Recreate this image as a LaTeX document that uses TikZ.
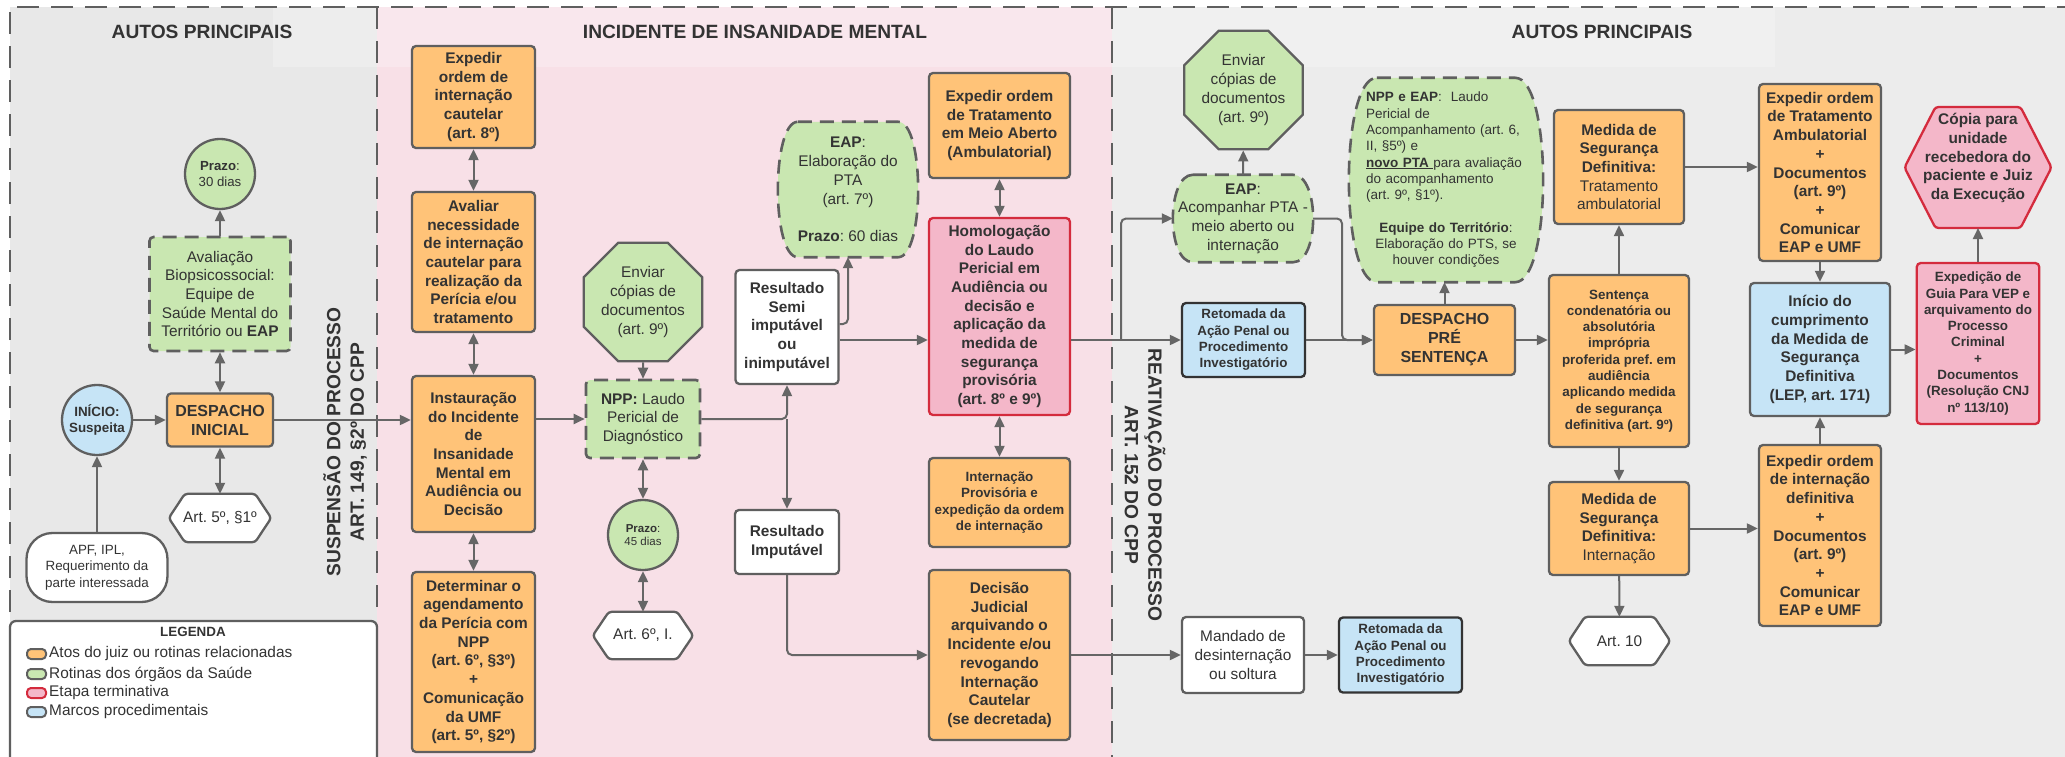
\documentclass[tikz,border=0pt]{standalone}
\usepackage{fontspec}
\setmainfont{Liberation Sans}
\usetikzlibrary{shapes.geometric,arrows.meta,calc}
\pgfdeclarelayer{bgl}
\pgfdeclarelayer{midl}
\pgfsetlayers{bgl,midl,main}
\frenchspacing
\definecolor{orng}{HTML}{FFC378}
\definecolor{grn}{HTML}{C9E7B1}
\definecolor{blu}{HTML}{C6E4F6}
\definecolor{pnk}{HTML}{F4B7C9}
\definecolor{redb}{HTML}{D42B3D}
\definecolor{bd}{HTML}{5F5F5F}
\definecolor{txt}{HTML}{333333}
\definecolor{panelpink}{HTML}{F8E0E7}
\definecolor{panelgray}{HTML}{E8E8E8}
\definecolor{panelgrayb}{HTML}{ECECEC}
\definecolor{arrc}{HTML}{666666}
\newcommand{\fntB}{\fontsize{15.4}{18.7}\selectfont\bfseries\frenchspacing}
\newcommand{\fntR}{\fontsize{15.4}{18.7}\selectfont\frenchspacing}
\newcommand{\fntSB}{\fontsize{13.4}{16.3}\selectfont\bfseries\frenchspacing}
\newcommand{\fntSR}{\fontsize{13.4}{16.3}\selectfont\frenchspacing}
\newcommand{\fntH}{\fontsize{19.2}{23.5}\selectfont\bfseries\frenchspacing}
\newcommand{\fntD}{\fontsize{16}{19}\selectfont\bfseries}
\newcommand{\hexshape}[2]{%
  \draw[hexd] (#1.west) -- ($(#1.north west)+(#2,0)$) -- ($(#1.north east)+(-#2,0)$) -- (#1.east) -- ($(#1.south east)+(-#2,0)$) -- ($(#1.south west)+(#2,0)$) -- cycle;}
\newcommand{\barrelshape}[2]{%
  \draw[barreld] ($(#1.north west)+(#2,0)$) -- ($(#1.north east)+(-#2,0)$)
   .. controls ($(#1.north east)+(#2*0.33,0)$) and ($(#1.south east)+(#2*0.33,0)$) .. ($(#1.south east)+(-#2,0)$)
   -- ($(#1.south west)+(#2,0)$)
   .. controls ($(#1.south west)+(-#2*0.33,0)$) and ($(#1.north west)+(-#2*0.33,0)$) .. ($(#1.north west)+(#2,0)$) -- cycle;}
\tikzset{
 box/.style={rectangle, rounded corners=4pt, draw=bd, line width=2.3pt, inner sep=0pt, align=center, text=txt},
 ob/.style={box, fill=orng},
 gb/.style={box, fill=grn, dash pattern=on 14pt off 8pt, line width=2.6pt},
 wb/.style={box, fill=white},
 bb/.style={box, fill=blu},
 bbd/.style={box, fill=blu, draw=black!80},
 pb/.style={box, fill=pnk, draw=redb},
 circ/.style={circle, draw=bd, line width=2.3pt, inner sep=0pt, minimum size=70pt, align=center, text=txt},
 shp/.style={inner sep=0pt, align=center, text=txt, draw=none},
 arr/.style={draw=arrc, line width=2pt, -{Triangle[length=11pt,width=10pt]}},
 darr/.style={draw=arrc, line width=2pt, {Triangle[length=11pt,width=10pt]}-{Triangle[length=11pt,width=10pt]}},
 hexd/.style={draw=bd, line width=2.3pt, fill=white, rounded corners=3pt},
 barreld/.style={draw=bd, line width=2.6pt, fill=grn, dash pattern=on 14pt off 8pt},
 octo/.style={regular polygon, regular polygon sides=8, minimum size=123pt, draw=bd, line width=2.3pt, fill=grn, inner sep=0pt, align=center, text=txt},
 dashline/.style={draw=bd, line width=2.7pt, dash pattern=on 22pt off 12pt},
 legi/.style={rectangle, rounded corners=4pt, minimum width=19pt, minimum height=10pt, line width=2pt, inner sep=0pt},
}
\begin{document}
\begin{tikzpicture}[x=1pt,y=-1pt]
\useasboundingbox (0,0) rectangle (2065,757);
\begin{pgfonlayer}{bgl}
\fill[white] (0,0) rectangle (2065,757);
\fill[panelgray] (10,7) rectangle (377,630);
\fill[panelpink] (377,7) rectangle (1112,790);
\fill[panelgrayb] (1112,7) rectangle (2080,790);
\fill[white, opacity=0.25] (273,7) rectangle (1775,67);
\draw[dashline] (10,612) -- (10,7) -- (2080,7);
\draw[dashline] (377,7) -- (377,612);
\draw[dashline] (1112,7) -- (1112,790);
\draw[draw=bd, line width=2.3pt, fill=white, rounded corners=6pt] (10,621) rectangle (377,800);
\end{pgfonlayer}

% headers
\node[font=\fntH, text=txt] (h1) at (202,32) {AUTOS PRINCIPAIS};
\node[font=\fntH, text=txt] (h2) at (755,32) {INCIDENTE DE INSANIDADE MENTAL};
\node[font=\fntH, text=txt] (h3) at (1602,32) {AUTOS PRINCIPAIS};
\node[rotate=90, font=\fntH, text=txt, align=center] (susp) at (345,442) {SUSPENSÃO DO PROCESSO\\ART. 149, §2º DO CPP};
\node[rotate=-90, font=\fntH, text=txt, align=center] (reat) at (1145,485) {REATIVAÇÃO DO PROCESSO\\ART. 152 DO CPP};

% left panel
\node[circ, fill=grn, font=\fontsize{13.2}{16}\selectfont] (p30) at (220,174) {\textbf{Prazo}:\\30 dias};
\node[gb, minimum width=141pt, minimum height=114pt, font=\fntR] (aval) at (220,294) {Avaliação\\Biopsicossocial:\\Equipe de\\Saúde Mental do\\Território ou \textbf{EAP}};
\node[ob, minimum width=106pt, minimum height=53pt, font=\fntD] (desp) at (220,420) {DESPACHO\\INICIAL};
\node[circ, fill=blu, font=\fntSB] (ini) at (97,420) {INÍCIO:\\Suspeita};
\node[wb, rounded corners=26pt, minimum width=141pt, minimum height=69pt, font=\fntSR] (apf) at (97,567.5) {APF, IPL,\\Requerimento da\\parte interessada};
\node[shp, minimum width=102pt, minimum height=48pt, font=\fntR] (a5) at (220,518) {Art. 5º, §1º};

% legend
\node[font=\fntSB, text=txt] (legt) at (193,632) {LEGENDA};
\node[legi, fill=orng, draw=bd] (l1) at (36.5,654) {};
\node[legi, fill=grn, draw=bd] (l2) at (36.5,674) {};
\node[legi, fill=pnk, draw=redb] (l3) at (36.5,693) {};
\node[legi, fill=blu, draw=bd] (l4) at (36.5,712) {};
\node[font=\fntR, text=txt, anchor=west, inner sep=0pt] (l1t) at (49,654) {Atos do juiz ou rotinas relacionadas};
\node[font=\fntR, text=txt, anchor=west, inner sep=0pt] (l2t) at (49,674) {Rotinas dos órgãos da Saúde};
\node[font=\fntR, text=txt, anchor=west, inner sep=0pt] (l3t) at (49,693) {Etapa terminativa};
\node[font=\fntR, text=txt, anchor=west, inner sep=0pt] (l4t) at (49,712) {Marcos procedimentais};

% pink panel
\node[ob, minimum width=123pt, minimum height=102pt, font=\fntB] (expc) at (473.5,97) {Expedir\\ordem de\\internação\\cautelar\\(art. 8º)};
\node[ob, minimum width=123pt, minimum height=140pt, font=\fntB] (avalr) at (473.5,262) {Avaliar\\necessidade\\de internação\\cautelar para\\realização da\\Perícia e/ou\\tratamento};
\node[ob, minimum width=123pt, minimum height=156pt, font=\fntB] (inst) at (473.5,454) {Instauração\\do Incidente\\de\\Insanidade\\Mental em\\Audiência ou\\Decisão};
\node[ob, minimum width=123pt, minimum height=180pt, font=\fntB] (deter) at (473.5,662) {Determinar o\\agendamento\\da Perícia com\\NPP\\(art. 6º, §3º)\\+\\Comunicação\\da UMF\\(art. 5º, §2º)};
\node[octo, font=\fntR] (env1) at (643,302) {Enviar\\cópias de\\documentos\\(art. 9º)};
\node[gb, minimum width=114pt, minimum height=78pt, font=\fntR] (npp) at (643,419) {\textbf{NPP:} Laudo\\Pericial de\\Diagnóstico};
\node[circ, fill=grn, font=\fontsize{11.5}{13.7}\selectfont] (p45) at (643,535) {\textbf{Prazo}:\\45 dias};
\node[shp, minimum width=100pt, minimum height=47pt, font=\fntR] (a6) at (643,635.5) {Art. 6º, I.};
\node[wb, minimum width=103pt, minimum height=114pt, font=\fntB] (rsemi) at (787,327) {Resultado\\Semi\\imputável\\ou\\inimputável};
\node[wb, minimum width=104pt, minimum height=64pt, font=\fntB] (rimp) at (787,542) {Resultado\\Imputável};
\node[shp, minimum width=140pt, minimum height=135pt, font=\fntR] (eapel) at (848,189.5) {\textbf{EAP}:\\Elaboração do\\PTA\\(art. 7º)\\[18.7pt]\textbf{Prazo}: 60 dias};
\node[ob, minimum width=141pt, minimum height=105pt, font=\fntB] (trat) at (999.5,125.5) {Expedir ordem\\de Tratamento\\em Meio Aberto\\(Ambulatorial)};
\node[pb, minimum width=141pt, minimum height=197pt, font=\fntB] (homol) at (999.5,316.5) {Homologação\\do Laudo\\Pericial em\\Audiência ou\\decisão e\\aplicação da\\medida de\\segurança\\provisória\\(art. 8º e 9º)};
\node[ob, minimum width=141pt, minimum height=89pt, font=\fntSB] (intp) at (999.5,502.5) {Internação\\Provisória e\\expedição da ordem\\de internação};
\node[ob, minimum width=141pt, minimum height=170pt, font=\fntB] (decis) at (999.5,655) {Decisão\\Judicial\\arquivando o\\Incidente e/ou\\revogando\\Internação\\Cautelar\\(se decretada)};

% right panel
\node[shp, minimum width=140pt, minimum height=87pt, font=\fntR] (eapac) at (1243,218.5) {\textbf{EAP}:\\Acompanhar PTA -\\meio aberto ou\\internação};
\node[octo, font=\fntR] (env2) at (1243.5,90) {Enviar\\cópias de\\documentos\\(art. 9º)};
\node[bbd, minimum width=123pt, minimum height=74pt, font=\fntSB] (ret1) at (1243.5,340) {Retomada da\\Ação Penal ou\\Procedimento\\Investigatório};
\node[ob, minimum width=141pt, minimum height=70pt, font=\fntD] (dpre) at (1444.5,340) {DESPACHO\\PRÉ\\SENTENÇA};
\node[shp, minimum width=194pt, minimum height=204pt, text width=160pt, align=left, font=\fontsize{13.5}{16.3}\selectfont\frenchspacing] (nppeap) at (1446,180) {\textbf{NPP e EAP}:\ \ Laudo\\Pericial de\\Acompanhamento (art. 6,\\II, §5º) e\\\underline{\textbf{novo PTA }}para avaliação\\do acompanhamento\\(art. 9º, §1º).\par\vspace{16.3pt}{\centering\textbf{Equipe do Território}:\\Elaboração do PTS, se\\houver condições\par}};
\node[ob, minimum width=140pt, minimum height=172pt, font=\fntSB] (sent) at (1619,361) {Sentença\\condenatória ou\\absolutória\\imprópria\\proferida pref. em\\audiência\\aplicando medida\\de segurança\\definitiva (art. 9º)};
\node[ob, minimum width=130pt, minimum height=114pt, font=\fntR] (mtrat) at (1619,167) {\textbf{Medida de}\\\textbf{Segurança}\\\textbf{Definitiva:}\\Tratamento\\ambulatorial};
\node[ob, minimum width=140pt, minimum height=93pt, font=\fntR] (mint) at (1619,528.5) {\textbf{Medida de}\\\textbf{Segurança}\\\textbf{Definitiva:}\\Internação};
\node[shp, minimum width=101pt, minimum height=48pt, font=\fntR] (a10) at (1619.5,641) {Art. 10};
\node[ob, minimum width=122pt, minimum height=177pt, font=\fntB] (extrat) at (1820,172.5) {Expedir ordem\\de Tratamento\\Ambulatorial\\+\\Documentos\\(art. 9º)\\+\\Comunicar\\EAP e UMF};
\node[bb, minimum width=140pt, minimum height=133pt, font=\fntB] (inic) at (1820,349.5) {Início do\\cumprimento\\da Medida de\\Segurança\\Definitiva\\(LEP, art. 171)};
\node[ob, minimum width=122pt, minimum height=181pt, font=\fntB] (exint) at (1820,535.5) {Expedir ordem\\de internação\\definitiva\\+\\Documentos\\(art. 9º)\\+\\Comunicar\\EAP e UMF};
\node[shp, minimum width=147pt, minimum height=100pt, font=\fntB] (copia) at (1978,158) {Cópia para\\unidade\\recebedora do\\paciente e Juiz\\da Execução};
\node[pb, minimum width=122.5pt, minimum height=161pt, font=\fntSB] (guia) at (1978,343.5) {Expedição de\\Guia Para VEP e\\arquivamento do\\Processo\\Criminal\\+\\Documentos\\(Resolução CNJ\\nº 113/10)};
\node[wb, minimum width=122pt, minimum height=76pt, font=\fntR] (mand) at (1243,655) {Mandado de\\desinternação\\ou soltura};
\node[bbd, minimum width=123pt, minimum height=75pt, font=\fntSB] (ret2) at (1400.5,655) {Retomada da\\Ação Penal ou\\Procedimento\\Investigatório};

% drawn outlines for special shapes
\begin{pgfonlayer}{midl}
\hexshape{a5}{16}
\hexshape{a6}{16}
\hexshape{a10}{16}
\draw[hexd, fill=pnk, draw=redb] ($(copia.center)+(-73.5,9.5)$) -- ($(copia.center)+(-42.5,-51)$) -- ($(copia.center)+(42.5,-51)$) -- ($(copia.center)+(73.5,9.5)$) -- ($(copia.center)+(42.5,70)$) -- ($(copia.center)+(-42.5,70)$) -- cycle;
\barrelshape{eapel}{20}
\barrelshape{eapac}{20}
\barrelshape{nppeap}{28}
\end{pgfonlayer}

% connectors
\coordinate (hl) at (0,340);
\coordinate (j2) at (1121,340);
\coordinate (j3) at (1342,340);
\coordinate (copb) at ($(copia.center)+(0,70)$);
\draw[arr] (ini) -- (desp);
\draw[arr] (apf) -- (ini);
\draw[darr] (desp) -- (aval);
\draw[arr] (aval) -- (p30);
\draw[darr] (desp) -- (a5);
\draw[arr] (desp.east) -- (desp.east -| inst.west);
\draw[darr] (expc) -- (avalr);
\draw[darr] (avalr) -- (inst);
\draw[darr] (inst) -- (deter);
\draw[arr] (inst.east |- npp.west) -- (npp.west);
\draw[arr] (env1) -- (npp);
\draw[darr] (npp) -- (p45);
\draw[darr] (p45) -- (a6);
\draw[arr, rounded corners=5pt] (npp.east) -| (rsemi.south);
\draw[arr] (npp.east -| rimp.north) -- (rimp.north);
\draw[arr, rounded corners=5pt] ($(rsemi.east)+(0,-3)$) -| (eapel.south);
\draw[arr] (rsemi.east |- hl) -- (homol.west |- hl);
\draw[arr, rounded corners=5pt] (rimp.south) |- (decis.west);
\draw[darr] (trat) -- (homol);
\draw[darr] (homol) -- (intp);
\draw[arr] (homol.east |- hl) -- (ret1.west);
\draw[arr, rounded corners=5pt] (j2) |- (eapac.west);
\draw[arr] (eapac) -- (env2);
\draw[arr, rounded corners=5pt] (eapac.east) -| (j3) -- (dpre.west);
\draw[arr] (ret1) -- (dpre);
\draw[arr] (dpre.north) -- (dpre.north |- nppeap.south);
\draw[arr] (dpre.east) -- (dpre.east -| sent.west);
\draw[arr] (sent) -- (mtrat);
\draw[arr] (sent) -- (mint);
\draw[arr] (mint) -- (a10);
\draw[arr] (mtrat.east) -- (mtrat.east -| extrat.west);
\draw[arr] (mint.east) -- (mint.east -| exint.west);
\draw[arr] (extrat) -- (inic);
\draw[arr] (exint) -- (inic);
\draw[arr] (inic.east) -- (inic.east -| guia.west);
\draw[arr] (guia) -- (copb);
\draw[arr] (decis) -- (mand);
\draw[arr] (mand) -- (ret2);
\end{tikzpicture}
\end{document}
